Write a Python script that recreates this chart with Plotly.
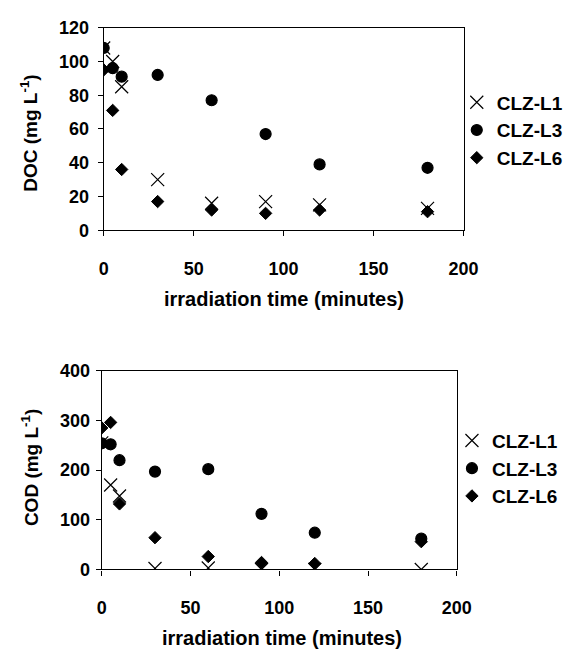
import plotly.graph_objects as go

time_min = [0, 5, 10, 30, 60, 90, 120, 180]

doc_l1 = [108, 100, 85, 30, 16, 17, 15, 13]
doc_l3 = [108, 96, 91, 92, 77, 57, 39, 37]
doc_l6 = [95, 71, 36, 17, 12, 10, 12, 11]

cod_l1 = [255, 170, 148, 2, 3, 0, 0, 0]
cod_l3 = [254, 252, 220, 197, 202, 112, 74, 62]
cod_l6 = [285, 296, 132, 64, 26, 14, 12, 56]

series_names = ["CLZ-L1", "CLZ-L3", "CLZ-L6"]
x_ticks = [0, 50, 100, 150, 200]
doc_ticks = [0, 20, 40, 60, 80, 100, 120]
cod_ticks = [0, 100, 200, 300, 400]

FONT = "Liberation Sans, Arial, sans-serif"
W, H = 567, 649

symbols = ["x-thin-open", "circle", "diamond"]
sizes = [13, 11, 9.5]
line_widths = [1.2, 1.2, 1.0]

fig = go.Figure()

for i, (name, ys) in enumerate(zip(series_names, [doc_l1, doc_l3, doc_l6])):
    fig.add_trace(go.Scatter(
        x=time_min, y=ys, mode="markers", name=name,
        marker=dict(symbol=symbols[i], size=sizes[i], color="black",
                    line=dict(color="black", width=line_widths[i])),
        xaxis="x", yaxis="y", legend="legend"))

for i, (name, ys) in enumerate(zip(series_names, [cod_l1, cod_l3, cod_l6])):
    fig.add_trace(go.Scatter(
        x=time_min, y=ys, mode="markers", name=name,
        marker=dict(symbol=symbols[i], size=sizes[i], color="black",
                    line=dict(color="black", width=line_widths[i])),
        xaxis="x2", yaxis="y2", legend="legend2"))

def px_x(p):
    return p / W

def px_y(p):
    return 1 - p / H

axis_common = dict(
    showgrid=False, zeroline=False, showline=True, linecolor="black", linewidth=1.3,
    mirror=True, ticks="outside", ticklen=5, tickcolor="black", tickwidth=1,
    tickfont=dict(family=FONT, size=18, color="black", weight="bold"),
)

title_font = dict(family=FONT, size=19, color="black", weight="bold")
xtitle_font = dict(family=FONT, size=20, color="black", weight="bold")
legend_font = dict(family=FONT, size=19, color="black", weight="bold")

fig.update_layout(
    width=W, height=H, autosize=False,
    margin=dict(l=0, r=0, t=0, b=0),
    paper_bgcolor="white", plot_bgcolor="white",
    xaxis=dict(domain=[px_x(94), px_x(467)], range=[0, 200], tickvals=x_ticks,
               anchor="y", ticklabelstandoff=17, **axis_common),
    yaxis=dict(domain=[px_y(219), px_y(10)], range=[0, 120], tickvals=doc_ticks,
               anchor="x", ticklabelstandoff=5, **axis_common),
    xaxis2=dict(domain=[px_x(92), px_x(460)], range=[0, 200], tickvals=x_ticks,
                anchor="y2", ticklabelstandoff=17, **axis_common),
    yaxis2=dict(domain=[px_y(569), px_y(364)], range=[0, 400], tickvals=cod_ticks,
                anchor="x2", ticklabelstandoff=2, **axis_common),
    legend=dict(x=px_x(460), y=px_y(116), xanchor="left", yanchor="middle",
                font=legend_font, bgcolor="rgba(0,0,0,0)", itemwidth=30,
                tracegroupgap=0),
    legend2=dict(x=px_x(455), y=px_y(465), xanchor="left", yanchor="middle",
                 font=legend_font, bgcolor="rgba(0,0,0,0)", itemwidth=30,
                 tracegroupgap=0),
    annotations=[
        dict(text="irradiation time (minutes)", x=px_x(281), y=px_y(290),
             xref="paper", yref="paper", showarrow=False, xanchor="center", yanchor="middle",
             font=xtitle_font),
        dict(text="irradiation time (minutes)", x=px_x(279), y=px_y(640),
             xref="paper", yref="paper", showarrow=False, xanchor="center", yanchor="middle",
             font=xtitle_font),
        dict(text="DOC (mg L<sup>-1</sup>)", x=px_x(17), y=px_y(119), textangle=-90,
             xref="paper", yref="paper", showarrow=False, xanchor="center", yanchor="middle",
             font=title_font),
        dict(text="COD (mg L<sup>-1</sup>)", x=px_x(17), y=px_y(464), textangle=-90,
             xref="paper", yref="paper", showarrow=False, xanchor="center", yanchor="middle",
             font=title_font),
    ],
)

fig.write_html("out.html")
